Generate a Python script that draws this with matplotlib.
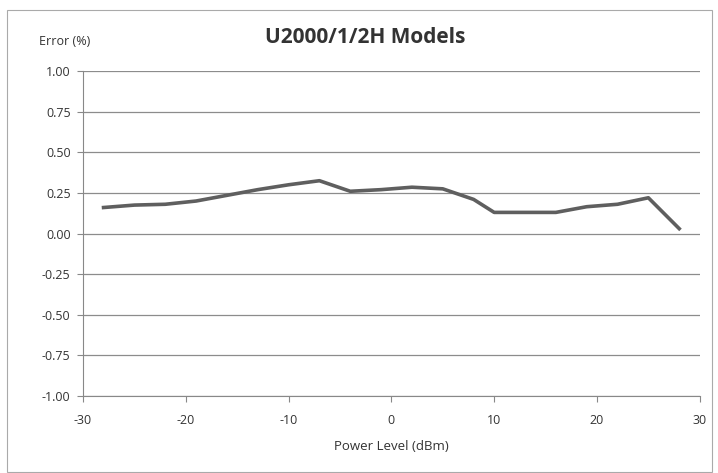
import matplotlib
matplotlib.use('Agg')
import matplotlib.pyplot as plt
from matplotlib.patches import Rectangle

power = [-28, -25, -22, -19, -16, -13, -10, -7, -4, -1, 2, 5, 8, 10, 13, 16, 19, 22, 25, 28]
error = [0.16, 0.175, 0.18, 0.20, 0.235, 0.27, 0.30, 0.325, 0.26, 0.27, 0.285, 0.275, 0.21, 0.13, 0.13, 0.13, 0.165, 0.18, 0.22, 0.03]
xticks = [-30, -20, -10, 0, 10, 20, 30]
yticks = [-1.0, -0.75, -0.5, -0.25, 0.0, 0.25, 0.5, 0.75, 1.0]

plt.rcParams['font.family'] = ['Open Sans', 'DejaVu Sans']
plt.rcParams['axes.unicode_minus'] = False

fig = plt.figure(figsize=(7.18, 4.73), dpi=100)
ax = fig.add_axes([0.1156, 0.1628, 0.859, 0.687])

ax.plot(power, error, color='#5f5f5f', lw=2.6, solid_joinstyle='round')

ax.set_xlim(-30, 30)
ax.set_ylim(-1, 1)
ax.set_xticks(xticks)
ax.set_yticks(yticks)
ax.set_yticklabels(['%.2f' % v for v in yticks])
ax.tick_params(labelsize=9, colors='#888888', labelcolor='#333333', length=4)
ax.tick_params(axis='x', pad=9)
ax.tick_params(axis='y', pad=5)
ax.grid(axis='y', color='#8c8c8c', lw=0.9)
ax.set_axisbelow(True)
for s in ['top', 'right']:
    ax.spines[s].set_visible(False)
for s in ['left', 'bottom']:
    ax.spines[s].set_color('#888888')

ax.set_xlabel('Power Level (dBm)', fontsize=9.5, color='#333333', labelpad=9)
fig.text(0.055, 0.912, 'Error (%)', fontsize=9, color='#333333', va='center')
fig.text(0.508, 0.92, 'U2000/1/2H Models', fontsize=15, fontweight='bold', color='#333333', ha='center', va='center')

fig.patches.append(Rectangle((0.010, 0.002), 0.982, 0.977, transform=fig.transFigure,
                             fill=False, ec='#aaaaaa', lw=0.8))

plt.savefig('out.png', dpi=100)
